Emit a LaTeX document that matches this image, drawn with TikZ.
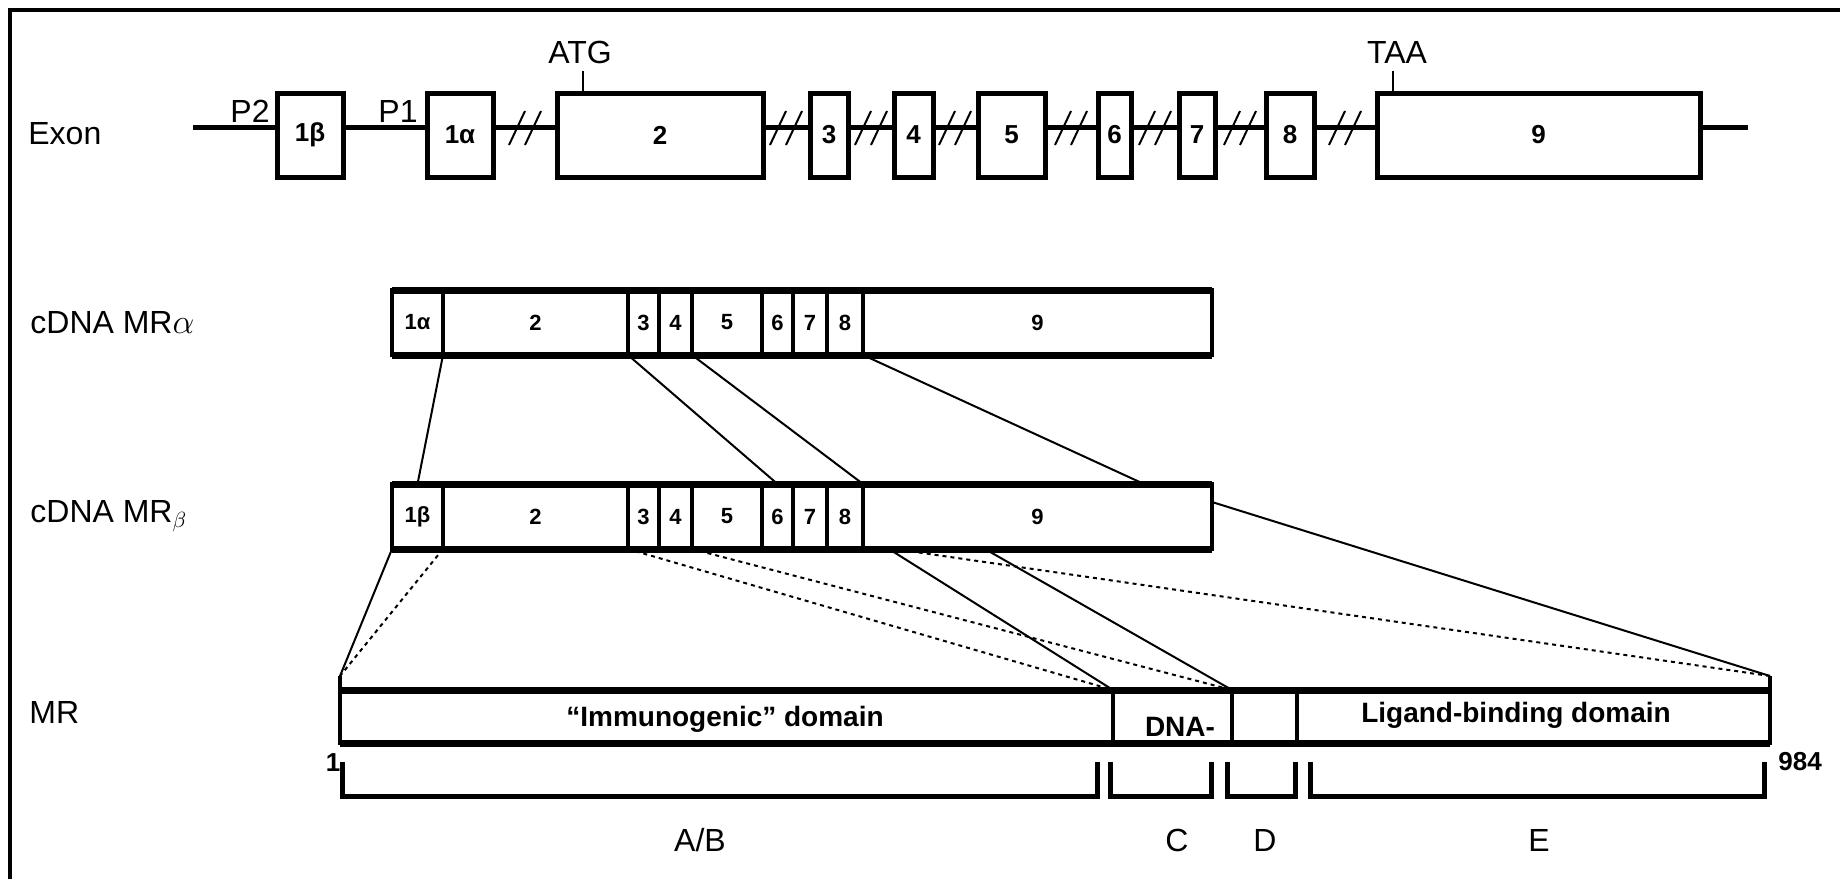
\documentclass[tikz,border=0pt]{standalone}
\usepackage{fontspec}
\setmainfont{Liberation Sans}
\tikzset{
  exon/.style={draw,line width=2.5pt,fill=white,inner sep=0pt,outer sep=0pt,minimum height=42pt,font=\bfseries\fontsize{13}{14}\selectfont},
  seg/.style={draw,line width=2pt,fill=white,inner sep=0pt,outer sep=0pt,minimum height=32.5pt,font=\bfseries\fontsize{11}{12}\selectfont},
  dom/.style={draw,line width=2pt,fill=white,inner sep=0pt,outer sep=0pt,minimum height=26.5pt},
  rim/.style={line width=3.5pt},
  link/.style={line width=1pt},
  dlink/.style={line width=1pt,dash pattern=on 2pt off 2pt},
  lbl/.style={font=\fontsize{16}{18}\selectfont,anchor=west,inner sep=0pt},
  tag/.style={font=\fontsize{16}{18}\selectfont,inner sep=0pt},
  dtext/.style={font=\bfseries\fontsize{14}{16}\selectfont,inner sep=0pt},
  num/.style={font=\bfseries\fontsize{13}{14}\selectfont,inner sep=0pt},
  bracket/.style={line width=2.5pt}
}
\begin{document}
\begin{tikzpicture}[x=0.5pt,y=-0.5pt]
\useasboundingbox (0,0) rectangle (1840,879);
% Moldura
\draw[line width=2pt] (10,879) -- (10,10) -- (1840,10);
% Gene
\coordinate (gs) at (193,127);
\coordinate (ge) at (1748,127);
\draw[line width=2.5pt] (gs) -- (ge);
\foreach \c in {525,786,871,955,1071,1155,1240,1345}
  \draw[link] (\c-16,145) -- (\c,111) (\c,145) -- (\c+16,111); % quebras
\foreach \nm/\l/\r/\t in {e1b/277/343/1β,e1a/427/493/1α,e2/557/763/2,e3/810/848/3,e4/894/933/4,
    e5/978/1045/5,e6/1098/1131/6,e7/1179/1215/7,e8/1266/1314/8,e9/1377/1700/9}
  \node[exon,minimum width={(\r-\l)*0.5pt}] (\nm) at ({(\l+\r)/2},135) {\t};
\node[lbl] (lexon) at (28,134) {Exon};
\node[tag] (p2) at (250,111) {P2};
\node[tag] (p1) at (398,111) {P1};
\node[tag] (atg) at (580,52) {ATG};
\node[tag] (taa) at (1397,52) {TAA};
\draw[link] (e2.north west) ++(26,0) -- ++(0,-22);
\draw[link] (e9.north west) ++(16,0) -- ++(0,-22);
% cDNA alfa e beta
\foreach \row/\y/\g in {a/322.5/α,b/516.5/β} {
  \node[seg,minimum width=25.5pt] (\row1) at (417.5,\y) {1\g};
  \foreach \n/\l/\r in {2/443/628,3/628/659,4/659/692,5/692/762,6/762/793,7/793/827,8/827/863,9/863/1212}
    \node[seg,minimum width={(\r-\l)*0.5pt}] (\row\n) at ({(\l+\r)/2},\y) {\n};
  \draw[rim] (\row1.north west) -- (\row9.north east) (\row1.south west) -- (\row9.south east);
}
\node[lbl] (la) at (30,323) {cDNA MR$\alpha$};
\node[lbl] (lb) at (30,516) {cDNA MR$_\beta$};
% Proteína
\foreach \nm/\l/\r in {mab/340/1113,mc/1113/1232,md/1232/1297,me/1297/1770}
  \node[dom,minimum width={(\r-\l)*0.5pt}] (\nm) at ({(\l+\r)/2},716.5) {};
\draw[rim] (mab.north west) -- (me.north east) (mab.south west) -- (me.south east);
\node[lbl] (lm) at (29,712) {MR};
\node[dtext] (imm) at (725,719) {“Immunogenic” domain};
\node[dtext] (dna) at (1180,727) {DNA-};
\node[dtext] (lig) at (1516,715) {Ligand-binding domain};
% Ligações
\coordinate (tl) at (340,676);
\coordinate (tr) at (1770,676);
\coordinate (b9m) at (1144,484);
\draw[line width=2pt] (tl) -- (mab.north west) (tr) -- (me.north east);
\draw[link] (a1.south east) -- (b1.north)
  (a3.south west) -- (b6.north)
  (a5.south west) -- (b9.north west)
  (a9.south west) -- (b9m);
\draw[link] (b1.south west) -- (tl)
  (b9.north east) ++(0,18) -- (tr)
  (b9.south west) ++(26,0) -- (mab.north east)
  (b9.south west) ++(122,0) -- (mc.north east);
\draw[dlink] (b2.south west) -- (tl)
  (b3.south west) -- (mab.north east)
  (b5.south west) -- (mc.north east)
  (b9.south west) ++(32,0) -- (tr);
% Domínios
\foreach \l/\r in {342/1097,1110/1211,1227/1295,1310/1764}
  \draw[bracket] (\l,762) |- (\r,796) -- (\r,762);
\node[num] (n1) at (333,763) {1};
\node[num] (n984) at (1800,762) {984};
\node[tag] (nab) at (700,840) {A/B};
\node[tag] (nc) at (1177,840) {C};
\node[tag] (nd) at (1265,840) {D};
\node[tag] (ne) at (1539,840) {E};
\end{tikzpicture}
\end{document}
